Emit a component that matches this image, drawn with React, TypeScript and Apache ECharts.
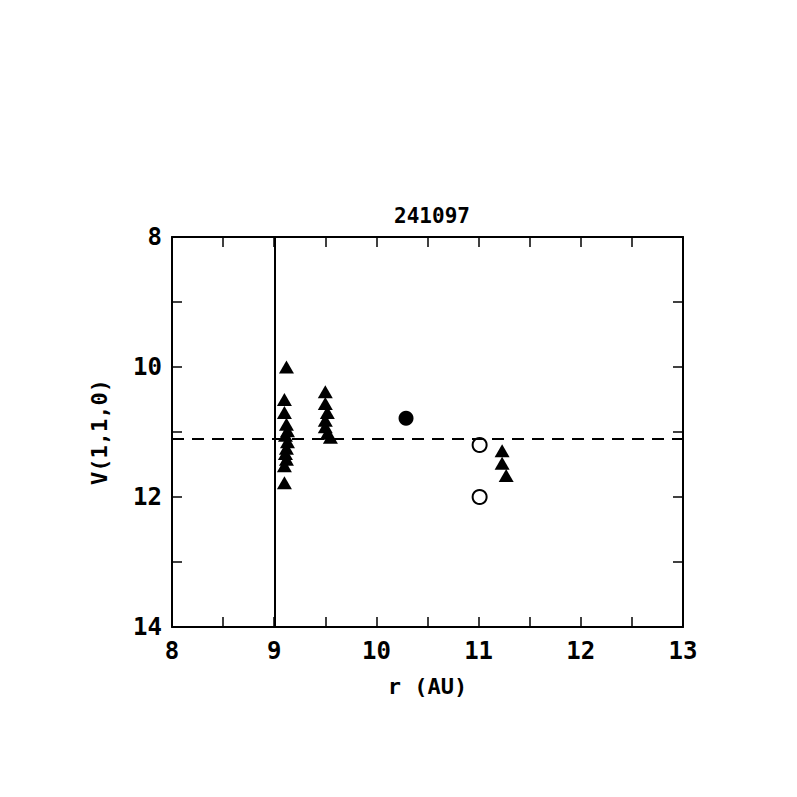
import React, { useEffect, useRef } from "react";
import * as echarts from "echarts";

const triR = [9.12, 9.1, 9.1, 9.12, 9.13, 9.11, 9.13, 9.12, 9.11, 9.12, 9.1, 9.1,
  9.5, 9.5, 9.52, 9.5, 9.5, 9.52, 9.55,
  11.23, 11.23, 11.27];
const triV = [10.0, 10.5, 10.7, 10.88, 10.98, 11.05, 11.15, 11.25, 11.33, 11.42, 11.52, 11.78,
  10.38, 10.56, 10.7, 10.82, 10.92, 11.02, 11.08,
  11.29, 11.48, 11.67];
const filledR = [10.29];
const filledV = [10.79];
const openR = [11.01, 11.01];
const openV = [11.2, 12.0];
const verticalR = 9.01;
const dashedV = 11.1;
const xTicks = [8, 9, 10, 11, 12, 13];
const yTicks = [8, 10, 12, 14];
const title = "241097";

const FONT = "DejaVu Sans Mono";

export default function App() {
  const ref = useRef<HTMLDivElement>(null);
  useEffect(() => {
    const chart = echarts.init(ref.current!, null, { renderer: "svg" });
    const axisLine = { show: true, lineStyle: { color: "#000", width: 2 } };
    const tick = { show: true, inside: true, length: 10, lineStyle: { color: "#000", width: 1.5 } };
    const xBase = {
      type: "value", min: 8, max: 13, interval: 0.5,
      axisLine, axisTick: tick, splitLine: { show: false },
    };
    const yBase = {
      type: "value", min: 8, max: 14, interval: 1, inverse: true,
      axisLine, axisTick: tick, splitLine: { show: false },
    };
    const zip = (a: number[], b: number[]) => a.map((v, i) => [v, b[i]]);
    chart.setOption({
      animation: false,
      backgroundColor: "#fff",
      title: {
        text: title, left: 427, top: 200, textAlign: "center",
        textStyle: { fontFamily: FONT, fontSize: 21, fontWeight: "bold", color: "#000" },
      },
      grid: { left: 172, right: 114, top: 237, bottom: 170, containLabel: false },
      xAxis: [
        {
          ...xBase, position: "bottom",
          name: "r (AU)", nameLocation: "middle", nameGap: 48,
          nameTextStyle: { fontFamily: FONT, fontSize: 22, fontWeight: "bold", color: "#000" },
          axisLabel: {
            show: true, margin: 12, fontFamily: FONT, fontSize: 24, fontWeight: "bold", color: "#000",
            formatter: (v: number) => (xTicks.includes(v) ? String(v) : ""),
          },
        },
        { ...xBase, position: "top", axisLabel: { show: false } },
      ],
      yAxis: [
        {
          ...yBase, position: "left",
          name: "V(1,1,0)", nameLocation: "middle", nameGap: 62, nameRotate: 90,
          nameTextStyle: { fontFamily: FONT, fontSize: 22, fontWeight: "bold", color: "#000" },
          axisLabel: {
            show: true, margin: 10, fontFamily: FONT, fontSize: 24, fontWeight: "bold", color: "#000",
            formatter: (v: number) => (yTicks.includes(v) ? String(v) : ""),
          },
        },
        { ...yBase, position: "right", axisLabel: { show: false } },
      ],
      series: [
        {
          type: "scatter", symbol: "triangle", symbolSize: [15, 13],
          itemStyle: { color: "#000", opacity: 1 }, data: zip(triR, triV),
          markLine: {
            silent: true, symbol: "none", label: { show: false },
            data: [
              { xAxis: verticalR, lineStyle: { color: "#000", width: 2, type: "solid" } },
              { yAxis: dashedV, lineStyle: { color: "#000", width: 2, type: [12, 8] } },
            ],
          },
        },
        {
          type: "scatter", symbol: "circle", symbolSize: 15,
          itemStyle: { color: "#000", opacity: 1 }, data: zip(filledR, filledV),
        },
        {
          type: "scatter", symbol: "circle", symbolSize: 14,
          itemStyle: { color: "#fff", borderColor: "#000", borderWidth: 2, opacity: 1 }, data: zip(openR, openV),
        },
      ],
    });
    return () => chart.dispose();
  }, []);
  return <div ref={ref} style={{ width: 797, height: 797, margin: -8 }} />;
}
